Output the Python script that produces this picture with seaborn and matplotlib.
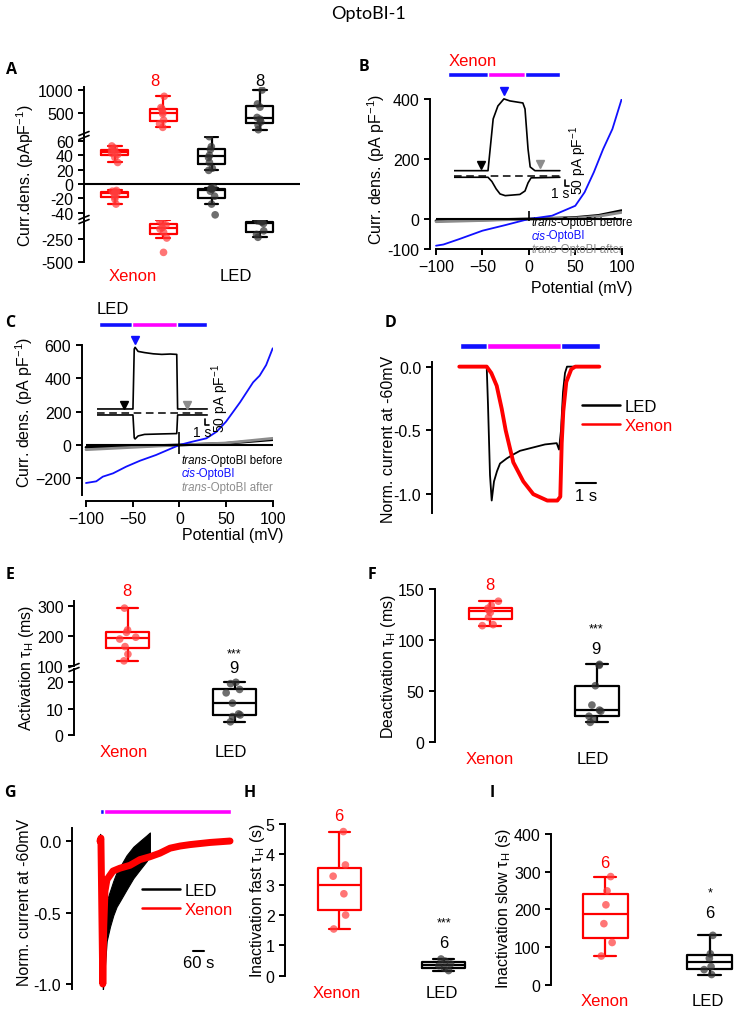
import numpy as np
import pandas as pd
import seaborn as sns
import matplotlib.pyplot as plt
from matplotlib.lines import Line2D

# ---------------- values ----------------
# A: current density at +100 / -100 mV (pA/pF), trans = before, cis = after light
xenon_trans_out = [30, 37, 41, 43, 45, 47, 50, 53]
xenon_trans_in = [-28, -21, -18, -13, -12, -11, -10, -9]
xenon_cis_out = [170, 250, 330, 470, 510, 580, 610, 860]
xenon_cis_in = [-397, -239, -175, -140, -125, -95, -70, -45]
led_trans_out = [19, 22, 30, 37, 40, 48, 52, 66]
led_trans_in = [-43, -28, -17, -10, -7.5, -6.5, -6, -5]
led_cis_out = [118, 220, 290, 350, 390, 620, 690, 1000]
led_cis_in = [-231, -200, -160, -80, -62, -58, -55, -50]

# B: I/V ramps with the Xenon lamp
b_mv_cis = [-100, -92, -75, -50, -25, 0, 25, 50, 60, 70, 80, 90, 100]
b_cis = [-89, -85, -67, -39, -20, 0, 11, 44, 89, 156, 233, 300, 400]
b_mv = [-100, -50, 0, 50, 75, 100]
b_before = [-6, -3, 0, 5, 12, 28]
b_after = [-9, -5, 0, 3, 9, 22]
# B inset (s, pA/pF)
b_ins_t_out = [0, 7.9, 9.1, 10.2, 11.6, 13.0, 16.0, 16.5, 17.2, 17.7, 18.8, 24.6]
b_ins_out = [0, 0, 431, 539, 598, 581, 564, 514, 181, 31, 0, 0]
b_ins_t_in = [0, 7.9, 8.8, 9.8, 10.7, 11.9, 15.3, 16.5, 17.2, 17.9, 24.6]
b_ins_in = [-55, -55, -90, -152, -194, -208, -198, -169, -102, -60, -55]

# C: I/V ramps with the LED
c_mv_cis = [-100, -89, -82, -71, -57, -42, -25, 0, 11, 29, 40, 50, 65, 79, 86, 93, 100]
c_cis = [-228, -218, -190, -170, -130, -94, -60, 0, 16, 40, 80, 140, 256, 376, 416, 480, 580]
c_mv = [-100, -50, 0, 50, 100]
c_before = [-14, -7, 0, 10, 32]
c_after = [-28, -14, 0, 12, 40]
# C inset
c_ins_t_out = [0, 8.3, 8.6, 8.8, 9.5, 11, 13, 15, 17, 18.5, 18.7, 25.6]
c_ins_out = [0, 0, 500, 514, 480, 470, 460, 455, 458, 455, 0, 0]
c_ins_t_in = [0, 8.3, 8.6, 8.8, 9.5, 11, 15, 18.5, 18.7, 25.6]
c_ins_in = [-50, -50, -240, -250, -225, -212, -208, -205, -50, -50]

# D: normalised current at -60 mV (s)
d_t_led = [0, 1.37, 1.435, 1.535, 1.62, 1.735, 1.885, 2.035, 2.37, 2.685, 3.035,
           3.535, 4.285, 4.87, 4.985, 5.085, 5.185, 5.285, 5.385, 7.0]
d_led = [0, 0, -0.3, -0.85, -1.05, -0.9, -0.82, -0.76, -0.72, -0.69, -0.66,
         -0.64, -0.61, -0.6, -0.65, -0.5, -0.2, -0.05, 0, 0]
d_t_xe = [0, 1.37, 1.6, 1.87, 2.12, 2.32, 2.7, 3.2, 3.7, 4.4, 4.9, 5.05, 5.12,
          5.2, 5.35, 5.6, 5.8, 7.0]
d_xe = [0, 0, -0.05, -0.15, -0.33, -0.5, -0.75, -0.9, -1.0, -1.05, -1.05, -1.02,
        -0.6, -0.35, -0.12, -0.02, 0, 0]

# E / F: activation and deactivation tau (ms)
e_xenon = [118, 140, 165, 190, 196, 212, 220, 292]
e_led = [5, 7, 7.6, 8, 12.1, 16, 17.3, 19.5, 20]
f_xenon = [114, 115, 122, 127, 129, 131, 134, 138]
f_led = [19, 22, 25, 30, 31, 36, 55, 75, 76]

# G: long inactivation traces (s)
g_t_led = [0, 10, 15, 22, 35.6, 53, 70.6, 88, 106, 141, 177, 212, 248, 265]
g_led_hi = [0.05, 0.03, -0.9, -0.6, -0.42, -0.35, -0.28, -0.22, -0.18, -0.1, -0.04, 0.0, 0.04, 0.06]
g_led_lo = [-0.15, -0.1, -1.05, -0.95, -0.7, -0.6, -0.52, -0.46, -0.42, -0.34, -0.26, -0.2, -0.14, -0.1]
g_t_xe = [0, 5, 15, 20, 26.6, 37, 69, 106, 159, 212, 265, 318, 372, 425, 478, 584, 690]
g_xe = [0, 0.02, -1.0, -0.6, -0.35, -0.27, -0.21, -0.19, -0.17, -0.13, -0.11,
        -0.085, -0.05, -0.035, -0.025, -0.01, 0.0]

# H / I: inactivation tau (s)
h_xenon = [1.54, 2.0, 2.7, 3.28, 3.65, 4.75]
h_led = [0.17, 0.25, 0.33, 0.39, 0.48, 0.55]
i_xenon = [76, 112, 162, 212, 249, 287]
i_led = [27, 40, 48, 70, 82, 131]

# ---------------- style ----------------
RED, BLUE, MAG, GREY = "#ff0000", "#1010ff", "#ff00ff", "#8c8c8c"
sns.set_style("ticks", rc={"axes.edgecolor": "black", "xtick.color": "black",
                           "ytick.color": "black", "text.color": "black",
                           "axes.labelcolor": "black"})
plt.rcParams["font.family"] = ["Liberation Sans", "DejaVu Sans"]
plt.rcParams["axes.unicode_minus"] = False
plt.rcParams["mathtext.fontset"] = "custom"
plt.rcParams["mathtext.rm"] = "Liberation Sans"
plt.rcParams["mathtext.it"] = "Liberation Sans:italic"
plt.rcParams["axes.linewidth"] = 1.4
plt.rcParams["xtick.major.width"] = 1.4
plt.rcParams["ytick.major.width"] = 1.4
plt.rcParams["xtick.major.size"] = 4
plt.rcParams["ytick.major.size"] = 4
plt.rcParams["xtick.labelsize"] = 11.5
plt.rcParams["ytick.labelsize"] = 11.5
plt.rcParams["axes.labelsize"] = 11.5

LINE = {"Xenon": RED, "LED": "black", "Xenon trans": RED, "Xenon cis": RED,
        "LED trans": "black", "LED cis": "black"}
DOTS = {"Xenon": "#ff3b3b", "LED": "#303030", "Xenon trans": "#ff3b3b", "Xenon cis": "#ff3b3b",
        "LED trans": "#303030", "LED cis": "#303030"}

W, H = 736, 1012
fig = plt.figure(figsize=(W / 100, H / 100), dpi=100)
np.random.seed(2)


def px_axes(x0, y0, x1, y1):
    return fig.add_axes([x0 / W, 1 - y1 / H, (x1 - x0) / W, (y1 - y0) / H])


def ftxt(x, y, s, **kw):
    kw.setdefault("ha", "center")
    kw.setdefault("va", "center")
    return fig.text(x / W, 1 - y / H, s, **kw)


def ylab(ax, s, x, y):
    ax.set_ylabel(s)
    ax.yaxis.set_label_coords(x / W, 1 - y / H, transform=fig.transFigure)


def xlab(ax, s, x, y):
    ax.set_xlabel(s)
    ax.xaxis.set_label_coords(x / W, 1 - y / H, transform=fig.transFigure)


def brk(x, y):
    for dy in (-2, 2):
        fig.add_artist(Line2D([(x - 5) / W, (x + 5) / W],
                              [1 - (y + dy + 2) / H, 1 - (y + dy - 2) / H],
                              color="black", lw=1.2))


def iv_key(ax, x, y, italic, rest, color):
    # italic isomer prefix followed by the regular part, on one line
    t = ftxt(x, y, italic, ha="left", va="bottom", style="italic", size=8.3, color=color)
    ax.annotate(rest, xy=(1, 0), xycoords=t, ha="left", va="bottom", size=8.3,
                color=color, annotation_clip=False)


def long_df(pairs):
    return pd.DataFrame([(g, v) for g, vals in pairs for v in vals],
                        columns=["group", "value"])


def boxes(ax, df, order, width):
    sns.boxplot(data=df, x="group", y="value", hue="group", order=order,
                palette=LINE, fill=False, width=width, linewidth=1.6,
                showfliers=False, dodge=False, legend=False, ax=ax)
    sns.stripplot(data=df, x="group", y="value", hue="group", order=order,
                  palette=DOTS, jitter=0.08, size=5.5, alpha=0.7, dodge=False,
                  legend=False, ax=ax, zorder=3)
    ax.set_xlabel("")
    ax.set_ylabel("")
    ax.set_xticks([])
    sns.despine(ax=ax, bottom=True)


# ---------------- A ----------------
a_order = ["Xenon trans", "Xenon cis", "LED trans", "LED cis"]
ax_at = px_axes(84, 88, 300, 136)
ax_am = px_axes(84, 137, 300, 220)
ax_ab = px_axes(84, 221, 300, 263)
boxes(ax_at, long_df([("Xenon cis", xenon_cis_out), ("LED cis", led_cis_out)]), a_order, 0.56)
boxes(ax_am, long_df([("Xenon trans", xenon_trans_out), ("LED trans", led_trans_out)]), a_order, 0.56)
boxes(ax_am, long_df([("Xenon trans", xenon_trans_in), ("LED trans", led_trans_in)]), a_order, 0.56)
boxes(ax_ab, long_df([("Xenon cis", xenon_cis_in), ("LED cis", led_cis_in)]), a_order, 0.56)
for ax in (ax_at, ax_am, ax_ab):
    ax.set_xlim(-0.64, 3.83)
ax_at.set_ylim(0, 1067)
ax_at.set_yticks([500, 1000])
ax_am.set_ylim(-48.8, 66.9)
ax_am.set_yticks([-40, -20, 0, 20, 40, 60])
ax_am.axhline(0, color="black", lw=1.5)
ax_ab.set_ylim(-503, -40.7)
ax_ab.set_yticks([-500, -250])
brk(84, 136.5)
brk(84, 220.5)
ylab(ax_am, "Curr.dens. (pApF$^{-1}$)", 36, 176)
ftxt(155, 81, "8", color=RED, size=12)
ftxt(260, 81, "8", size=12)
ftxt(133, 277, "Xenon", color=RED, size=12)
ftxt(236, 277, "LED", size=12)

# ---------------- B ----------------
ax_b = px_axes(430, 100, 621.7, 250)
sns.lineplot(x=b_mv, y=b_before, color="black", lw=2, ax=ax_b)
sns.lineplot(x=b_mv, y=b_after, color=GREY, lw=2, ax=ax_b)
sns.lineplot(x=b_mv_cis, y=b_cis, color=BLUE, lw=1.3, ax=ax_b)
ax_b.hlines(0, -100, 100, color="black", lw=1.5)
ax_b.vlines(0, -6, 28, color="black", lw=1.2)
ax_b.set_xlim(-106.5, 100)
ax_b.set_ylim(-100, 400)
sns.despine(ax=ax_b)
ax_b.spines["bottom"].set_bounds(-100, 100)
ax_b.set_xticks([-100, -50, 0, 50, 100], labels=["\u2212100", "\u221250", "0", "50", "100"])
ax_b.set_yticks([-100, 0, 200, 400])
ylab(ax_b, "Curr. dens. (pA pF$^{-1}$)", 387, 169)
xlab(ax_b, "Potential (mV)", 582, 281)
iv_key(ax_b, 531.7, 229, "trans", "-OptoBI before", "black")
iv_key(ax_b, 531.7, 242.5, "cis", "-OptoBI", BLUE)
iv_key(ax_b, 531.7, 256, "trans", "-OptoBI after", GREY)

ax_bi = px_axes(454, 85, 590, 200)
ax_bi.plot(b_ins_t_out, b_ins_out, color="black", lw=1.2)
ax_bi.plot(b_ins_t_in, b_ins_in, color="black", lw=1.2)
ax_bi.hlines(-48, 0, 24.6, color="black", lw=1.1, linestyles=(0, (5, 3)))
ax_bi.plot([6.2], [47], marker="v", color="black", ms=6)
ax_bi.plot([11.6], [664], marker="v", color=BLUE, ms=6)
ax_bi.plot([20.0], [56], marker="v", color=GREY, ms=6)
ax_bi.plot([25.8, 25.8, 26.8], [-75, -125, -125], color="black", lw=1.2)
ax_bi.broken_barh([(-1.4, 9.3), (7.9, 8.6), (16.5, 8.15)], (779, 42),
                  facecolors=[BLUE, MAG, BLUE], clip_on=False)
ax_bi.set_xlim(0, 31.6)
ax_bi.set_ylim(-236, 722)
ax_bi.axis("off")
ftxt(560, 194, "1 s", size=10)
ftxt(578, 160, "50 pA pF$^{-1}$", size=10, rotation=90)
ftxt(473, 62, "Xenon", color=RED, size=12)

# ---------------- C ----------------
ax_c = px_axes(81.7, 346, 272.7, 496)
sns.lineplot(x=c_mv, y=c_before, color="black", lw=2, ax=ax_c)
sns.lineplot(x=c_mv, y=c_after, color=GREY, lw=2, ax=ax_c)
sns.lineplot(x=c_mv_cis, y=c_cis, color=BLUE, lw=1.3, ax=ax_c)
ax_c.hlines(0, -100, 100, color="black", lw=1.5)
ax_c.vlines(0, -54, 78, color="black", lw=1.2)
ax_c.set_xlim(-104.6, 100)
ax_c.set_ylim(-300, 600)
sns.despine(ax=ax_c)
ax_c.spines["bottom"].set_position(("outward", 4))
ax_c.spines["bottom"].set_bounds(-100, 100)
ax_c.set_xticks([-100, -50, 0, 50, 100], labels=["\u2212100", "\u221250", "0", "50", "100"])
ax_c.set_yticks([-200, 0, 200, 400, 600], labels=["\u2212200", "0", "200", "400", "600"])
ylab(ax_c, "Curr. dens. (pA pF$^{-1}$)", 35, 412)
xlab(ax_c, "Potential (mV)", 233, 528)
iv_key(ax_c, 181.7, 467, "trans", "-OptoBI before", "black")
iv_key(ax_c, 181.7, 480.5, "cis", "-OptoBI", BLUE)
iv_key(ax_c, 181.7, 494, "trans", "-OptoBI after", GREY)

ax_ci = px_axes(97.3, 335, 230, 445)
ax_ci.plot(c_ins_t_out, c_ins_out, color="black", lw=1.2)
ax_ci.plot(c_ins_t_in, c_ins_in, color="black", lw=1.2)
ax_ci.hlines(-36, 0, 25.6, color="black", lw=1.1, linestyles=(0, (5, 3)))
ax_ci.plot([6.3], [33], marker="v", color="black", ms=6)
ax_ci.plot([8.8], [578], marker="v", color=BLUE, ms=6)
ax_ci.plot([20.9], [33], marker="v", color=GREY, ms=6)
ax_ci.plot([25.05, 25.05, 26.05], [-83, -133, -133], color="black", lw=1.2)
ax_ci.broken_barh([(0.33, 7.67), (8.0, 10.6), (18.6, 7.0)], (681, 42),
                  facecolors=[BLUE, MAG, BLUE], clip_on=False)
ax_ci.set_xlim(0, 30.9)
ax_ci.set_ylim(-292, 625)
ax_ci.axis("off")
ftxt(201.7, 433.3, "1 s", size=10)
ftxt(220, 398, "50 pA pF$^{-1}$", size=10, rotation=90)
ftxt(113, 309, "LED", size=12)

# ---------------- D ----------------
ax_d = px_axes(431.7, 363.3, 650, 514.3)
sns.lineplot(x=d_t_led, y=d_led, color="black", lw=1.3, ax=ax_d, sort=False)
sns.lineplot(x=d_t_xe, y=d_xe, color=RED, lw=2.8, ax=ax_d, sort=False)
ax_d.broken_barh([(0.035, 1.365), (1.4, 3.68), (5.08, 1.95)], (0.137, 0.047),
                 facecolors=[BLUE, MAG, BLUE], clip_on=False)
ax_d.plot([5.835, 6.835], [-0.916, -0.916], color="black", lw=1.5, clip_on=False)
ax_d.text(6.335, -1.01, "1 s", ha="center", va="center", size=12)
ax_d.set_xlim(-1.38, 9.535)
ax_d.set_ylim(-1.15, 0.034)
ax_d.set_xticks([])
ax_d.set_yticks([-1.0, -0.5, 0.0], labels=["-1.0", "-0.5", "0.0"])
sns.despine(ax=ax_d, bottom=True)
ylab(ax_d, "Norm. current at -60mV", 396, 439)
leg_h = [Line2D([], [], color="black", lw=1.8), Line2D([], [], color=RED, lw=1.8)]
ax_d.legend(leg_h, ["LED", "Xenon"], loc="center left",
            bbox_to_anchor=(581.7 / W, 1 - 417 / H), bbox_transform=fig.transFigure,
            frameon=False, fontsize=12, handlelength=2.3, handletextpad=0.3,
            labelspacing=0.25, borderpad=0, borderaxespad=0, labelcolor="linecolor")

# ---------------- E ----------------
ax_et = px_axes(74, 601.7, 288, 667.3)
ax_eb = px_axes(74, 670, 288, 736)
boxes(ax_et, long_df([("Xenon", e_xenon)]), ["Xenon", "LED"], 0.4)
boxes(ax_eb, long_df([("LED", e_led)]), ["Xenon", "LED"], 0.4)
for ax in (ax_et, ax_eb):
    ax.set_xlim(-0.5, 1.5)
ax_et.set_ylim(100, 316.5)
ax_et.set_yticks([100, 200, 300])
ax_eb.set_ylim(0, 25.05)
ax_eb.set_yticks([0, 10, 20])
brk(74, 668.5)
ylab(ax_eb, "Activation τ$_{\\mathrm{H}}$ (ms)", 36, 668)
ftxt(127, 591.7, "8", color=RED, size=12)
ftxt(234, 654, "***", size=9)
ftxt(234, 668.3, "9", size=12)
ftxt(124, 752.3, "Xenon", color=RED, size=12)
ftxt(230.7, 752.3, "LED", size=12)

# ---------------- F ----------------
ax_f = px_axes(435, 590, 650, 742.7)
boxes(ax_f, long_df([("Xenon", f_xenon), ("LED", f_led)]), ["Xenon", "LED"], 0.41)
ax_f.set_xlim(-0.52, 1.5)
ax_f.set_ylim(0, 150)
ax_f.set_yticks([0, 50, 100, 150])
ylab(ax_f, "Deactivation τ$_{\\mathrm{H}}$ (ms)", 398, 667)
ftxt(490, 585, "8", color=RED, size=12)
ftxt(596, 629.3, "***", size=9)
ftxt(596, 650, "9", size=12)
ftxt(489.3, 759.3, "Xenon", color=RED, size=12)
ftxt(592.7, 759.3, "LED", size=12)

# ---------------- G ----------------
ax_g = px_axes(71.7, 829.3, 240, 990)
ax_g.fill_between(g_t_led, g_led_lo, g_led_hi, color="black", lw=0.8)
sns.lineplot(x=g_t_xe, y=g_xe, color=RED, lw=5, ax=ax_g, sort=False)
ax_g.broken_barh([(0, 21.2), (21.2, 672.8)], (0.19, 0.036),
                 facecolors=[BLUE, MAG], clip_on=False)
ax_g.plot([492, 552], [-0.767, -0.767], color="black", lw=1.5)
ax_g.text(522, -0.848, "60 s", ha="center", va="center", size=12)
ax_g.set_xlim(-150, 743)
ax_g.set_ylim(-1.035, 0.089)
ax_g.set_xticks([])
ax_g.set_yticks([-1.0, -0.5, 0.0], labels=["-1.0", "-0.5", "0.0"])
sns.despine(ax=ax_g, bottom=True)
ylab(ax_g, "Norm. current at -60mV", 32, 902)
ax_g.legend(leg_h, ["LED", "Xenon"], loc="center left",
            bbox_to_anchor=(141.7 / W, 1 - 901 / H), bbox_transform=fig.transFigure,
            frameon=False, fontsize=12, handlelength=2.3, handletextpad=0.3,
            labelspacing=0.25, borderpad=0, borderaxespad=0, labelcolor="linecolor")

# ---------------- H ----------------
ax_h = px_axes(285, 825, 485.3, 976.7)
boxes(ax_h, long_df([("Xenon", h_xenon), ("LED", h_led)]), ["Xenon", "LED"], 0.41)
ax_h.set_xlim(-0.52, 1.4)
ax_h.set_ylim(0, 5)
ax_h.set_yticks([0, 1, 2, 3, 4, 5])
ylab(ax_h, "Inactivation fast τ$_{\\mathrm{H}}$ (s)", 267, 901)
ftxt(338.3, 816.7, "6", color=RED, size=12)
ftxt(444, 923.3, "***", size=9)
ftxt(444, 943.3, "6", size=12)
ftxt(336.7, 993.3, "Xenon", color=RED, size=12)
ftxt(441.7, 993.3, "LED", size=12)

# ---------------- I ----------------
ax_i = px_axes(551, 835, 735.6, 985.7)
boxes(ax_i, long_df([("Xenon", i_xenon), ("LED", i_led)]), ["Xenon", "LED"], 0.43)
ax_i.set_xlim(-0.52, 1.25)
ax_i.set_ylim(0, 400)
ax_i.set_yticks([0, 100, 200, 300, 400])
ylab(ax_i, "Inactivation slow τ$_{\\mathrm{H}}$ (s)", 513, 909)
ftxt(605, 863.3, "6", color=RED, size=12)
ftxt(710, 893.3, "*", size=9)
ftxt(710, 913.3, "6", size=12)
ftxt(604.3, 1001.7, "Xenon", color=RED, size=12)
ftxt(708.3, 1001.7, "LED", size=12)

# ---------------- titles / letters ----------------
ftxt(368, 14, "OptoBI-1", size=13, family="Lato")
for letter, x, y in [("A", 11, 70), ("B", 364, 67), ("C", 10, 323), ("D", 390, 323),
                     ("E", 10, 575), ("F", 372, 575), ("G", 10, 793), ("H", 250, 793),
                     ("I", 492, 793)]:
    ftxt(x, y, letter, size=11.5, weight="bold", family="Open Sans")

fig.savefig("out.png", dpi=100)
